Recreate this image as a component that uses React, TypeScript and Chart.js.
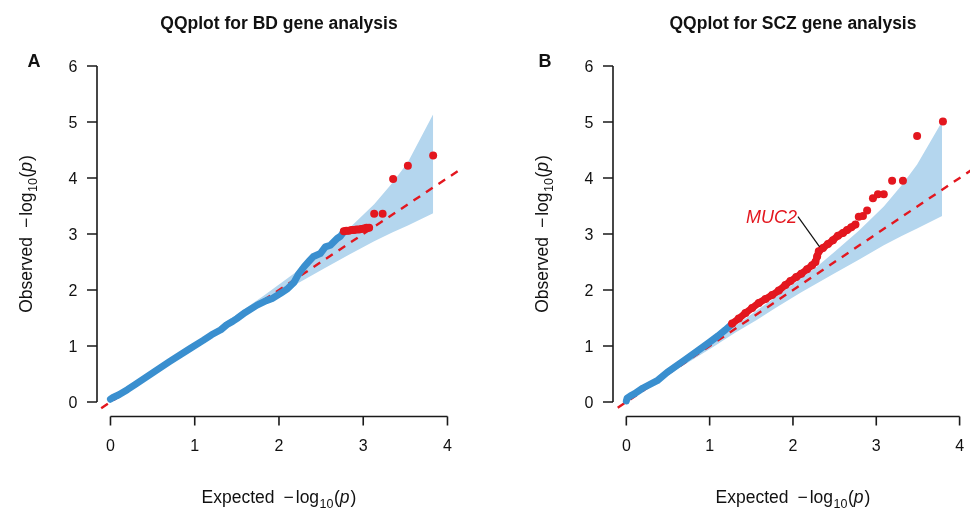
import React, { useEffect, useRef } from 'react';
import { Chart, registerables } from 'chart.js';

Chart.register(...registerables);

const FONT = '"Liberation Sans", Arial, Helvetica, sans-serif';
const RED = '#e3171f';
const BLUE = '#3a8fcf';
const BAND = '#b4d6ee';

// Axis ticks (shared)
const xTicks = [0, 1, 2, 3, 4];
const yTicks = [0, 1, 2, 3, 4, 5, 6];
const diagX = [-1, 6];
const diagY = [-1, 6];

// ---------- Panel A: BD ----------
const bdBandX = [0, 0.5, 0.83, 1.1, 1.35, 1.6, 1.83, 2.13, 2.33, 2.53, 2.83, 3.13, 3.35, 3.53, 3.83];
const bdBandUpper = [0, 0.51, 0.85, 1.13, 1.4, 1.67, 1.91, 2.24, 2.46, 2.71, 3.1, 3.53, 3.92, 4.28, 5.14];
const bdBandLower = [0, 0.49, 0.81, 1.07, 1.31, 1.54, 1.76, 2.04, 2.21, 2.38, 2.63, 2.87, 3.03, 3.15, 3.37];

const bdBlueX = [0, 0.03, 0.1, 0.2, 0.3, 0.5, 0.7, 0.95, 1.1, 1.2, 1.31, 1.38, 1.45, 1.5, 1.6, 1.74, 1.85, 1.92, 2.02, 2.1, 2.18, 2.23, 2.3, 2.36, 2.41, 2.49, 2.55, 2.61, 2.69, 2.73, 2.76];
const bdBlueY = [0.05, 0.08, 0.13, 0.22, 0.32, 0.52, 0.72, 0.96, 1.1, 1.2, 1.29, 1.38, 1.44, 1.49, 1.6, 1.73, 1.81, 1.85, 1.94, 2.02, 2.14, 2.28, 2.42, 2.52, 2.6, 2.65, 2.77, 2.8, 2.92, 2.96, 3.02];

const bdRedX = [2.77, 2.8, 2.83, 2.86, 2.89, 2.92, 2.95, 2.98, 3.01, 3.04, 3.07, 3.13, 3.23, 3.355, 3.53, 3.83];
const bdRedY = [3.05, 3.06, 3.06, 3.07, 3.07, 3.08, 3.08, 3.09, 3.1, 3.11, 3.11, 3.36, 3.36, 3.98, 4.22, 4.4];
const bdRedDenseCount = 11;

// ---------- Panel B: SCZ ----------
const sczBandX = [0, 0.5, 0.79, 1.06, 1.31, 1.56, 1.79, 2.09, 2.29, 2.49, 2.79, 3.09, 3.31, 3.49, 3.79];
const sczBandUpper = [0, 0.51, 0.81, 1.09, 1.36, 1.63, 1.87, 2.2, 2.42, 2.67, 3.06, 3.49, 3.88, 4.24, 5.01];
const sczBandLower = [0, 0.48, 0.75, 1.0, 1.24, 1.46, 1.68, 1.95, 2.12, 2.29, 2.54, 2.8, 2.97, 3.1, 3.32];

const sczBlueX = [0, 0.01, 0.05, 0.1, 0.2, 0.37, 0.49, 0.7, 0.88, 1.0, 1.1, 1.19, 1.25];
const sczBlueY = [0.02, 0.07, 0.11, 0.15, 0.25, 0.38, 0.53, 0.75, 0.94, 1.07, 1.18, 1.29, 1.37];

const sczRedX = [1.27, 1.35, 1.43, 1.51, 1.59, 1.67, 1.75, 1.83, 1.91, 1.97, 2.04, 2.1, 2.17, 2.23, 2.27, 2.29, 2.31, 2.36, 2.42, 2.48, 2.54, 2.6, 2.65, 2.7, 2.75, 2.79, 2.84, 2.89, 2.96, 3.02, 3.09, 3.19, 3.32, 3.49, 3.8];
const sczRedY = [1.4, 1.49, 1.59, 1.68, 1.77, 1.84, 1.91, 1.99, 2.09, 2.16, 2.23, 2.29, 2.37, 2.44, 2.5, 2.6, 2.69, 2.75, 2.82, 2.89, 2.97, 3.02, 3.07, 3.12, 3.17, 3.31, 3.32, 3.42, 3.64, 3.71, 3.71, 3.95, 3.95, 4.75, 5.01];
const sczRedDenseCount = 25;

const sczGeneLabel = 'MUC2';
const sczGeneLabelAt = { x: 2.06, y: 3.31 };
const sczGenePoint = { x: 2.32, y: 2.77 };

// ---------- layout constants ----------
const PX_PER_X = 84.25;
const PLOT_TOP = 52.56;
const PLOT_BOTTOM = 415.44;
const CANVAS_H = 510;

const pts = (xs: number[], ys: number[]) => xs.map((x, i) => ({ x, y: ys[i] }));

type PanelProps = {
  width: number;
  plotLeft: number;
  plotRight: number;
  title: string;
  letter: string;
  letterX: number;
  yTitleBaseX: number;
  bandX: number[];
  bandUpper: number[];
  bandLower: number[];
  blueX: number[];
  blueY: number[];
  redX: number[];
  redY: number[];
  redDense: number;
  gene?: { text: string; at: { x: number; y: number }; to: { x: number; y: number } };
};

function drawMathLabel(ctx: CanvasRenderingContext2D, word: string) {
  const base = `17.5px ${FONT}`;
  const sub = `12.5px ${FONT}`;
  const ital = `italic 17.5px ${FONT}`;
  const parts = [
    { t: word, f: base, dy: 0, gap: 0 },
    { t: '\u2212', f: base, dy: 0, gap: 9 },
    { t: 'log', f: base, dy: 0, gap: 2 },
    { t: '10', f: sub, dy: 5, gap: 0.5 },
    { t: '(', f: base, dy: 0, gap: 0.5 },
    { t: 'p', f: ital, dy: 0, gap: 0 },
    { t: ')', f: base, dy: 0, gap: 1 },
  ];
  let total = 0;
  const widths = parts.map((p) => {
    ctx.font = p.f;
    const w = ctx.measureText(p.t).width;
    total += w + p.gap;
    return w;
  });
  let x = -total / 2;
  ctx.textAlign = 'left';
  ctx.textBaseline = 'alphabetic';
  ctx.fillStyle = '#111';
  parts.forEach((p, i) => {
    x += p.gap;
    ctx.font = p.f;
    ctx.fillText(p.t, x, p.dy);
    x += widths[i];
  });
}

function Panel(props: PanelProps) {
  const ref = useRef<HTMLCanvasElement | null>(null);
  useEffect(() => {
    const canvas = ref.current;
    if (!canvas) return;
    const xMin = -0.16;
    const xMax = xMin + (props.plotRight - props.plotLeft) / PX_PER_X;

    const decor = {
      id: 'decor',
      afterDraw(chart: any) {
        const ctx: CanvasRenderingContext2D = chart.ctx;
        const xs = chart.scales.x;
        const ys = chart.scales.y;
        const area = chart.chartArea;
        ctx.save();
        // axes
        ctx.strokeStyle = '#1a1a1a';
        ctx.lineWidth = 1.6;
        ctx.lineCap = 'butt';
        const ay = area.bottom + 1;
        ctx.beginPath();
        ctx.moveTo(xs.getPixelForValue(xTicks[0]), ay);
        ctx.lineTo(xs.getPixelForValue(xTicks[xTicks.length - 1]), ay);
        xTicks.forEach((t) => {
          const px = xs.getPixelForValue(t);
          ctx.moveTo(px, ay);
          ctx.lineTo(px, ay + 9);
        });
        const ax = area.left;
        ctx.moveTo(ax, ys.getPixelForValue(yTicks[0]));
        ctx.lineTo(ax, ys.getPixelForValue(yTicks[yTicks.length - 1]));
        yTicks.forEach((t) => {
          const py = ys.getPixelForValue(t);
          ctx.moveTo(ax, py);
          ctx.lineTo(ax - 10, py);
        });
        ctx.stroke();

        ctx.fillStyle = '#111';
        ctx.font = `16px ${FONT}`;
        ctx.textBaseline = 'alphabetic';
        ctx.textAlign = 'center';
        xTicks.forEach((t) => {
          ctx.fillText(String(t), xs.getPixelForValue(t), 451);
        });
        ctx.textAlign = 'right';
        yTicks.forEach((t) => {
          ctx.fillText(String(t), ax - 19.5, ys.getPixelForValue(t) + 5.8);
        });

        const cx = (xs.getPixelForValue(xTicks[0]) + xs.getPixelForValue(xTicks[xTicks.length - 1])) / 2;
        const cy = (ys.getPixelForValue(yTicks[0]) + ys.getPixelForValue(yTicks[yTicks.length - 1])) / 2;

        // title
        ctx.font = `bold 17.5px ${FONT}`;
        ctx.textAlign = 'center';
        ctx.fillText(props.title, cx, 29);
        // letter
        ctx.font = `bold 18px ${FONT}`;
        ctx.fillText(props.letter, props.letterX, 67);

        // x axis title
        ctx.save();
        ctx.translate(cx, 503);
        drawMathLabel(ctx, 'Expected');
        ctx.restore();
        // y axis title
        ctx.save();
        ctx.translate(props.yTitleBaseX, cy);
        ctx.rotate(-Math.PI / 2);
        drawMathLabel(ctx, 'Observed');
        ctx.restore();

        // gene annotation
        if (props.gene) {
          const g = props.gene;
          const lx = xs.getPixelForValue(g.at.x);
          const ly = ys.getPixelForValue(g.at.y);
          ctx.strokeStyle = '#111';
          ctx.lineWidth = 1.2;
          ctx.beginPath();
          ctx.moveTo(lx, ly);
          ctx.lineTo(xs.getPixelForValue(g.to.x), ys.getPixelForValue(g.to.y));
          ctx.stroke();
          ctx.fillStyle = RED;
          ctx.font = `italic 18px ${FONT}`;
          ctx.textAlign = 'right';
          ctx.textBaseline = 'middle';
          ctx.fillText(g.text, lx - 1, ly + 1);
        }
        ctx.restore();
      },
    };

    const chart = new Chart(canvas, {
      type: 'scatter',
      data: {
        datasets: [
          {
            label: 'lower',
            data: pts(props.bandX, props.bandLower),
            showLine: true,
            borderColor: 'rgba(0,0,0,0)',
            borderWidth: 0,
            pointRadius: 0,
            fill: false,
            order: 6,
          },
          {
            label: 'upper',
            data: pts(props.bandX, props.bandUpper),
            showLine: true,
            borderColor: 'rgba(0,0,0,0)',
            backgroundColor: BAND,
            borderWidth: 0,
            pointRadius: 0,
            fill: { target: 0 },
            order: 5,
          },
          {
            label: 'diag',
            data: pts(diagX, diagY),
            showLine: true,
            borderColor: RED,
            borderWidth: 2.4,
            borderDash: [8, 7],
            pointRadius: 0,
            clip: 0,
            order: 4,
          },
          {
            label: 'blue',
            data: pts(props.blueX, props.blueY),
            showLine: true,
            borderColor: BLUE,
            borderWidth: 7,
            borderCapStyle: 'round',
            borderJoinStyle: 'round',
            pointRadius: 0,
            order: 3,
          },
          {
            label: 'redDense',
            data: pts(props.redX.slice(0, props.redDense), props.redY.slice(0, props.redDense)),
            showLine: true,
            borderColor: RED,
            borderWidth: 7,
            borderCapStyle: 'round',
            borderJoinStyle: 'round',
            pointRadius: 0,
            order: 2,
          },
          {
            label: 'red',
            data: pts(props.redX, props.redY),
            showLine: false,
            backgroundColor: RED,
            borderColor: RED,
            borderWidth: 0,
            pointRadius: 4,
            order: 1,
          },
        ] as any,
      },
      options: {
        animation: false,
        responsive: false,
        maintainAspectRatio: false,
        devicePixelRatio: 1,
        events: [],
        layout: {
          padding: {
            left: props.plotLeft,
            right: props.width - props.plotRight,
            top: PLOT_TOP,
            bottom: CANVAS_H - PLOT_BOTTOM,
          },
        },
        plugins: {
          legend: { display: false },
          title: { display: false },
          tooltip: { enabled: false },
        },
        scales: {
          x: { type: 'linear', display: false, min: xMin, max: xMax },
          y: { type: 'linear', display: false, min: -0.24, max: 6.24 },
        },
      } as any,
      plugins: [decor],
    });
    return () => chart.destroy();
  }, []);
  return <canvas ref={ref} width={props.width} height={CANVAS_H} style={{ display: 'block', width: props.width, height: CANVAS_H }} />;
}

export default function App() {
  useEffect(() => {
    document.body.style.margin = '0';
    document.body.style.background = '#fff';
  }, []);
  return (
    <div style={{ position: 'relative', width: 974, height: 510, background: '#fff', display: 'flex' }}>
      <Panel
        width={487}
        plotLeft={97}
        plotRight={461}
        title="QQplot for BD gene analysis"
        letter="A"
        letterX={34}
        yTitleBaseX={32}
        bandX={bdBandX}
        bandUpper={bdBandUpper}
        bandLower={bdBandLower}
        blueX={bdBlueX}
        blueY={bdBlueY}
        redX={bdRedX}
        redY={bdRedY}
        redDense={bdRedDenseCount}
      />
      <Panel
        width={487}
        plotLeft={126}
        plotRight={487}
        title="QQplot for SCZ gene analysis"
        letter="B"
        letterX={58}
        yTitleBaseX={61}
        bandX={sczBandX}
        bandUpper={sczBandUpper}
        bandLower={sczBandLower}
        blueX={sczBlueX}
        blueY={sczBlueY}
        redX={sczRedX}
        redY={sczRedY}
        redDense={sczRedDenseCount}
        gene={{ text: sczGeneLabel, at: sczGeneLabelAt, to: sczGenePoint }}
      />
    </div>
  );
}
